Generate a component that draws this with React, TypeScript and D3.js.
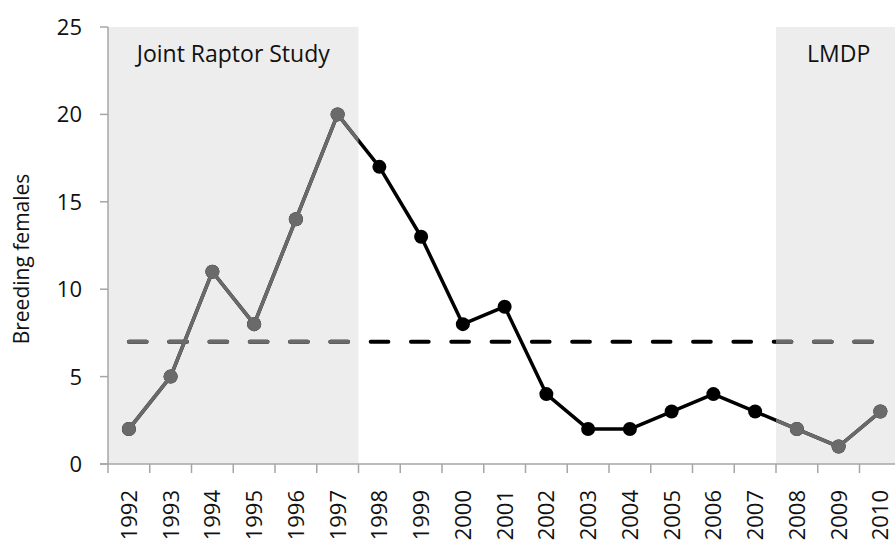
import React from "react";
import * as d3 from "d3";

const years = ["1992","1993","1994","1995","1996","1997","1998","1999","2000","2001","2002","2003","2004","2005","2006","2007","2008","2009","2010"];
const females = [2,5,11,8,14,20,17,13,8,9,4,2,2,3,4,3,2,1,3];
const threshold = 7;
const yTicks = [0,5,10,15,20,25];
const shaded = [
  { label: "Joint Raptor Study", from: "1992", to: "1997" },
  { label: "LMDP", from: "2008", to: "2010" },
];

const W = 895, H = 545;
const left = 108, top = 27, bottom = 464;
const band = 41.75;
const GRAY = "#6a6a6a";
const SHADE = "#ededed";
const AXIS = "#a6a6a6";
const FONT = "'Open Sans', sans-serif";

export default function App() {
  const x = d3.scaleBand<string>().domain(years).range([left, left + band * years.length]).padding(0);
  const cx = (d: string) => (x(d) as number) + x.bandwidth() / 2;
  const y = d3.scaleLinear().domain([0, 25]).range([bottom, top]);
  const line = d3.line<number>().x((_, i) => cx(years[i])).y(v => y(v));
  const path = line(females) as string;
  const rects = shaded.map(s => ({
    ...s,
    x0: x(s.from) as number,
    x1: (x(s.to) as number) + x.bandwidth(),
  }));

  const content = (color: string) => (
    <g>
      <line x1={cx(years[0])} x2={cx(years[years.length - 1])} y1={y(threshold)} y2={y(threshold)}
        stroke={color} strokeWidth={4} strokeDasharray="17.7 22.6" strokeLinecap="round" />
      <path d={path} fill="none" stroke={color} strokeWidth={3.5} strokeLinejoin="round" />
      {females.map((v, i) => (
        <circle key={i} cx={cx(years[i])} cy={y(v)} r={7} fill={color} />
      ))}
    </g>
  );

  return (
    <svg width={W} height={H} style={{ position: "absolute", left: 0, top: 0, background: "#fff" }}>
      <defs>
        <clipPath id="shadeClip">
          {rects.map((r, i) => (
            <rect key={i} x={r.x0} y={0} width={r.x1 - r.x0} height={H} />
          ))}
        </clipPath>
      </defs>
      {rects.map((r, i) => (
        <rect key={i} x={r.x0} y={y(25)} width={r.x1 - r.x0} height={y(0) - y(25)} fill={SHADE} />
      ))}
      {rects.map((r, i) => (
        <text key={"t" + i} x={(r.x0 + r.x1) / 2} y={62} textAnchor="middle"
          fontFamily={FONT} fontSize={23} fill="#111">{r.label}</text>
      ))}
      {/* axes */}
      <line x1={left} x2={left} y1={y(25)} y2={y(0)} stroke={AXIS} strokeWidth={1.5} />
      {yTicks.map(t => (
        <g key={t}>
          <line x1={left - 8} x2={left} y1={y(t)} y2={y(t)} stroke={AXIS} strokeWidth={1.5} />
          <text x={82} y={y(t)} dy="0.36em" textAnchor="end" fontFamily={FONT} fontSize={22} fill="#111">{t}</text>
        </g>
      ))}
      <line x1={left - 8} x2={left + band * years.length} y1={y(0)} y2={y(0)} stroke={AXIS} strokeWidth={1.5} />
      {years.map((yr, i) => (
        <line key={"xt" + i} x1={x(yr) as number} x2={x(yr) as number} y1={y(0)} y2={y(0) + 9} stroke={AXIS} strokeWidth={1.5} />
      ))}
      {years.map(yr => (
        <text key={"xl" + yr} transform={`translate(${cx(yr)},490) rotate(-90)`} dy="0.36em" textAnchor="end"
          fontFamily={FONT} fontSize={22} fill="#111">{yr}</text>
      ))}
      <text transform="translate(29,259) rotate(-90)" textAnchor="middle" fontFamily={FONT} fontSize={21} fill="#111">Breeding females</text>
      {/* data */}
      {content("#000")}
      <g clipPath="url(#shadeClip)">{content(GRAY)}</g>
    </svg>
  );
}
